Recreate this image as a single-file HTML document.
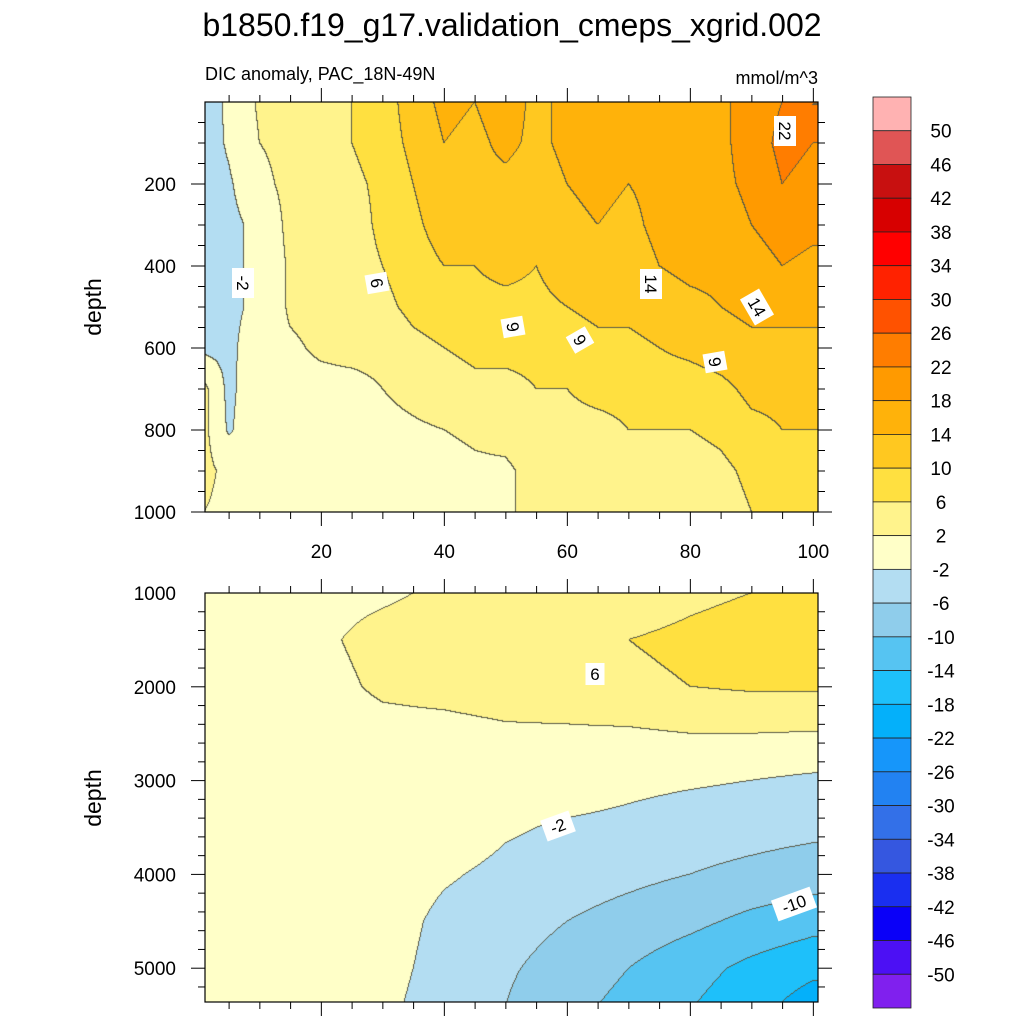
<!DOCTYPE html>
<html><head><meta charset="utf-8">
<style>
body{margin:0;background:#fff;width:1024px;height:1024px;overflow:hidden;font-family:"Liberation Sans",sans-serif;}
svg text{font-family:"Liberation Sans",sans-serif;}
</style></head>
<body>
<svg id="fig" width="1024" height="1024" xmlns="http://www.w3.org/2000/svg">
<text x="512" y="36" font-size="32" text-anchor="middle">b1850.f19_g17.validation_cmeps_xgrid.002</text>
<text x="205" y="80" font-size="18">DIC anomaly, PAC_18N-49N</text>
<text x="818" y="84" font-size="18" text-anchor="end">mmol/m^3</text>
<text transform="translate(101,307) rotate(-90)" font-size="23" text-anchor="middle">depth</text>
<text transform="translate(101,798) rotate(-90)" font-size="23" text-anchor="middle">depth</text>
<foreignObject x="205" y="102" width="613" height="410"><canvas xmlns="http://www.w3.org/1999/xhtml" id="c1" width="613" height="410"></canvas></foreignObject>
<foreignObject x="205" y="593" width="613" height="409"><canvas xmlns="http://www.w3.org/1999/xhtml" id="c2" width="613" height="409"></canvas></foreignObject>
<g id="axes"></g>
<g id="cbar"></g>
<g id="labels"></g>
</svg>
<script>
// colour levels
const levels=[-50,-46,-42,-38,-34,-30,-26,-22,-18,-14,-10,-6,-2,2,6,10,14,18,22,26,30,34,38,42,46,50];
const colors=["#8020ee","#4c10f4","#0a00f8","#1a2ff0","#3557e0","#3370e8","#2282f2","#1696fa","#04b0fa","#1ec0fa","#56c4f2","#8fcdeb","#b3ddf2","#ffffc8","#fff38c","#ffe040","#ffc820","#ffb20a","#ff9a00","#ff7d00","#ff5200","#ff2200","#ff0000","#d70000","#c81010","#e05555","#ffb2b2"];
const tickLabels=["50","46","42","38","34","30","26","22","18","14","10","6","2","-2","-6","-10","-14","-18","-22","-26","-30","-34","-38","-42","-46","-50"];
// top panel data
const topX=[1,5,10,15,20,25,30,35,40,45,50,55,60,65,70,75,80,85,90,95,100];
const topDepth=[0,100,200,300,400,500,600,700,800,900,1000];
const topVals=[
[-5,-1,2.5,3,4,6,8,12,15,14,16,13,15,17,15,16,17,17,20,22,22],
[-4,-1.5,2,3,4,6,8,11,14,13,15,13,15,16,15,15,16,17,20,23,22],
[-4,-2.5,1,3,4,5,7,10,13,13,13,12,14,15,14,15,16,17,19,22,21],
[-3,-3,-1,3,3.5,4,7,9,12,12,12,11,13,14,13,15,15,16,18,20,19],
[-3,-3,-1,2.5,3.5,4,6,8,10,10,11,10,12,12,12,14,15,15,16,18,17],
[-3,-3,-1,2.5,3,4,5,7,8,9,9,9,10,11,11,12,13,14,15,15,15],
[-3,-3,0.5,1.5,2.5,3,3,5,6,7,7,7,8,9,9,10,11,12,13,13,13],
[3,-3,1,1,1,1,2,3,4,5,5,6,6,7,7,8,8,9,11,11,11],
[3,-2.5,1,0.5,0.5,0.5,1,1.5,2,2.5,3,4,5,5,6,6,6,7,9,10,10],
[3,1,0.5,0.5,0.5,0.5,0.5,0.5,1,1.5,1.5,3,4,4,4,4,4,5,7,9,9],
[2,1,0.5,0.5,0.5,0.5,0.5,0.5,0.5,1,1.5,3,3.5,3.5,3.5,3.5,3.5,4,6,8,8]];
// bottom panel data
const botX=[1,10,20,30,40,50,60,70,80,90,100];
const botDepth=[1000,1500,2000,2500,3000,3500,4000,4500,5000,5400];
const botVals=[
[1,1,1,1.5,2.5,3,3,3.5,5,6,7],
[1,1,1.5,3,3.5,4,5,6,7,8,10],
[0.5,0.5,1,2.5,3,3.5,4,5,6,6.5,6.5],
[0.5,0.5,0.5,1,1,1.5,1.5,1.5,2,2,1.8],
[0.5,0.5,0.5,0.5,0.5,0.5,0,-1,-1.5,-2,-2.7],
[0.5,0.5,0.5,0.5,0.5,-1.5,-2.5,-3,-4,-4.5,-5],
[0.5,0.5,0.5,0.5,-1.5,-3,-4,-5,-6,-7,-8],
[0.5,0.5,0.5,0,-3,-4.5,-6,-7.5,-9,-11,-12.5],
[0.5,0.5,0.5,-0.5,-3.5,-5.5,-7.5,-10,-12.5,-15,-17],
[0.5,0.5,0.5,-1,-4,-6,-8.7,-11.3,-13.8,-16.5,-20]];

const NS="http://www.w3.org/2000/svg";
function mk(tag,attrs,parent){const e=document.createElementNS(NS,tag);for(const k in attrs)e.setAttribute(k,attrs[k]);parent.appendChild(e);return e;}
function hex(c){return [parseInt(c.slice(1,3),16),parseInt(c.slice(3,5),16),parseInt(c.slice(5,7),16)];}
const rgb=colors.map(hex);
function lvl(v){let i=0;while(i<levels.length&&v>=levels[i])i++;return i;}
function interp1(arr,v){let i=0;while(i<arr.length-2&&v>arr[i+1])i++;let t=(v-arr[i])/(arr[i+1]-arr[i]);t=Math.max(0,Math.min(1,t));return [i,t];}
function sample(xs,ds,vals,x,d){const [i,tx]=interp1(xs,x);const [j,ty]=interp1(ds,d);
 const a=vals[j][i],b=vals[j][i+1],c=vals[j+1][i],e=vals[j+1][i+1];
 return (a*(1-tx)+b*tx)*(1-ty)+(c*(1-tx)+e*tx)*ty;}
const xScale=x=>204.5+(x-1)*6.15;
function drawField(id,xs,ds,vals,d0,d1,W,H){
 const cv=document.getElementById(id),ctx=cv.getContext('2d');const img=ctx.createImageData(W,H);
 const L=new Int16Array(W*H);
 for(let py=0;py<H;py++){const d=d0+(py+0.5)/H*(d1-d0);
  for(let px=0;px<W;px++){const x=1+(px+205.5-204.5)/6.15;L[py*W+px]=lvl(sample(xs,ds,vals,Math.min(100,x),d));}}
 for(let py=0;py<H;py++)for(let px=0;px<W;px++){const k=py*W+px;let c=rgb[L[k]];
  if((px<W-1&&L[k+1]!==L[k])||(py<H-1&&L[k+W]!==L[k]))c=[90,90,70];
  img.data[k*4]=c[0];img.data[k*4+1]=c[1];img.data[k*4+2]=c[2];img.data[k*4+3]=255;}
 ctx.putImageData(img,0,0);}
drawField('c1',topX,topDepth,topVals,0,1000,613,410);
drawField('c2',botX,botDepth,botVals,1000,5360,613,409);

const ax=document.getElementById('axes');
function frame(y0,y1,name){mk('rect',{x:205,y:y0,width:613,height:y1-y0,fill:'none',stroke:'#000','stroke-width':1.2,},ax);}
frame(102,512,'top-plot-frame');frame(593,1002,'bottom-plot-frame');
// x ticks
for(let v=5;v<=100;v+=5){const X=xScale(v),maj=v%20===0,len=maj?14:7;
 for(const [y,dir] of [[102,-1],[512,1],[593,-1],[1002,1]]){
  const t=mk('line',{x1:X,x2:X,y1:y,y2:y+dir*len,stroke:'#000','stroke-width':1},ax);
  }
 if(maj){const t=mk('text',{x:X,y:558,'font-size':19,'text-anchor':'middle'},ax);t.textContent=v;
  }}
// top y ticks
const ty=d=>102+d*0.41;
for(let d=50;d<=1000;d+=50){const Y=ty(d),maj=d%200===0,len=maj?14:7;
 for(const [x,dir] of [[205,-1],[818,1]]){const t=mk('line',{x1:x,x2:x+dir*len,y1:Y,y2:Y,stroke:'#000'},ax);
  }
 if(maj){const t=mk('text',{x:176,y:Y+7,'font-size':19,'text-anchor':'end'},ax);t.textContent=d;
  }}
const by=d=>593+(d-1000)*0.0938;
for(let d=1200;d<=5360;d+=200){const Y=by(d),maj=d%1000===0,len=maj?14:7;
 for(const [x,dir] of [[205,-1],[818,1]]){const t=mk('line',{x1:x,x2:x+dir*len,y1:Y,y2:Y,stroke:'#000'},ax);
  }}
for(let d=1000;d<=5000;d+=1000){const t=mk('text',{x:176,y:by(d)+7,'font-size':19,'text-anchor':'end'},ax);t.textContent=d;
 }
// colorbar
const cb=document.getElementById('cbar');const cbTop=97,cbH=911/27;
for(let i=0;i<27;i++){const r=mk('rect',{x:873,y:cbTop+i*cbH,width:38,height:cbH,fill:colors[26-i],stroke:'#222','stroke-width':0.8},cb);
 }
for(let i=0;i<26;i++){const t=mk('text',{x:941,y:cbTop+(i+1)*cbH+7,'font-size':19,'text-anchor':'middle'},cb);t.textContent=tickLabels[i];
 }
// contour labels
const lb=document.getElementById('labels');
[[243,283,'-2',90],[377,283,'6',80],[513,327,'9',80],[580,340,'9',60],[651,284,'14',90],[757,307,'14',60],[715,362,'9',80],[785,131,'22',90],[595,674,'6',0],[558,826,'-2',-20],[794,904,'-10',-20]].forEach(([x,y,s,a])=>{
 const g=mk('g',{transform:`translate(${x},${y}) rotate(${a})`},lb);
 
 const w=s.length*11+8;mk('rect',{x:-w/2,y:-11,width:w,height:22,fill:'#fff'},g);
 const t=mk('text',{x:0,y:6,'font-size':17,'text-anchor':'middle'},g);t.textContent=s;});
</script>
</body></html>
